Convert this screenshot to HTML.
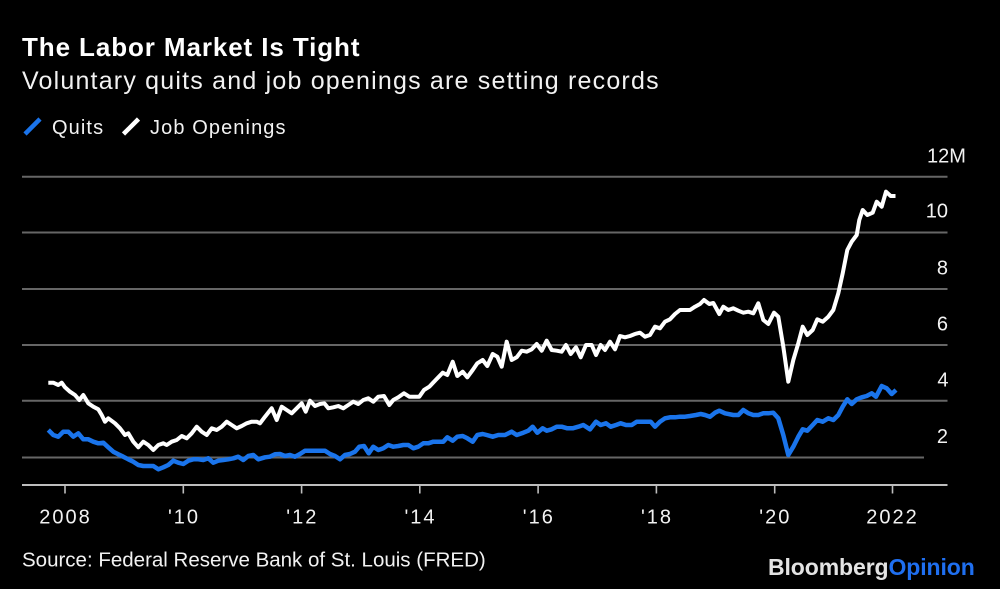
<!DOCTYPE html>
<html>
<head>
<meta charset="utf-8">
<style>
  html, body { margin:0; padding:0; background:#000; }
  body { width:1000px; height:589px; overflow:hidden; }
  svg { display:block; }
  text { font-family: "Liberation Sans", Arial, sans-serif; }
</style>
</head>
<body>
<svg width="1000" height="589" viewBox="0 0 1000 589" xmlns="http://www.w3.org/2000/svg">
  <rect x="0" y="0" width="1000" height="589" fill="#000"/>

  <!-- Title -->
  <text x="22" y="56" font-size="26" font-weight="bold" fill="#ffffff" letter-spacing="0.9">The Labor Market Is Tight</text>
  <text x="22" y="89" font-size="25" fill="#f2f2f2" letter-spacing="1.2">Voluntary quits and job openings are setting records</text>

  <!-- Legend -->
  <line x1="25" y1="134" x2="40" y2="119" stroke="#1a74eb" stroke-width="4.5"/>
  <text x="52" y="134" font-size="20" fill="#f2f2f2" letter-spacing="1.1">Quits</text>
  <line x1="123.5" y1="134" x2="138.5" y2="119" stroke="#ffffff" stroke-width="4.5"/>
  <text x="150" y="134" font-size="20" fill="#f2f2f2" letter-spacing="1.1">Job Openings</text>

  <!-- Gridlines -->
  <g stroke="#666666" stroke-width="2">
    <line x1="22" y1="176.7" x2="947.5" y2="176.7"/>
    <line x1="22" y1="232.5" x2="947.5" y2="232.5"/>
    <line x1="22" y1="289" x2="947.5" y2="289"/>
    <line x1="22" y1="345" x2="947.5" y2="345"/>
    <line x1="22" y1="400.7" x2="947.5" y2="400.7"/>
    <line x1="22" y1="457.5" x2="924" y2="457.5"/>
  </g>

  <!-- Y labels -->
  <g font-size="20" fill="#f2f2f2">
    <text x="927" y="162.7">12M</text>
    <text x="948" y="217.5" text-anchor="end">10</text>
    <text x="948" y="274.5" text-anchor="end">8</text>
    <text x="948" y="330.5" text-anchor="end">6</text>
    <text x="948.5" y="386.3" text-anchor="end">4</text>
    <text x="948" y="443" text-anchor="end">2</text>
  </g>

  <!-- X axis -->
  <line x1="22" y1="485" x2="947.5" y2="485" stroke="#bdbdbd" stroke-width="2"/>
  <g stroke="#bdbdbd" stroke-width="1.6">
    <line x1="65" y1="485" x2="65" y2="493.5"/>
    <line x1="183.3" y1="485" x2="183.3" y2="493.5"/>
    <line x1="301.6" y1="485" x2="301.6" y2="493.5"/>
    <line x1="419.8" y1="485" x2="419.8" y2="493.5"/>
    <line x1="538.1" y1="485" x2="538.1" y2="493.5"/>
    <line x1="656.4" y1="485" x2="656.4" y2="493.5"/>
    <line x1="774.7" y1="485" x2="774.7" y2="493.5"/>
    <line x1="892.5" y1="485" x2="892.5" y2="493.5"/>
  </g>
  <g font-size="20" fill="#f2f2f2" text-anchor="middle" letter-spacing="2">
    <text x="65.5" y="523.3">2008</text>
    <text x="184" y="523.3">'10</text>
    <text x="302.3" y="523.3">'12</text>
    <text x="420.5" y="523.3">'14</text>
    <text x="538.8" y="523.3">'16</text>
    <text x="657" y="523.3">'18</text>
    <text x="775.3" y="523.3">'20</text>
    <text x="892.5" y="523.3">2022</text>
  </g>

  <!-- Job openings (white) -->
  <polyline fill="none" stroke="#ffffff" stroke-width="4" stroke-linejoin="round" stroke-linecap="butt"
    points="48.3,382.7 53.3,382.7 58.3,385 61.7,382.7 65,387.3 70,391.7 75,395 79.3,400 83.3,395 88.3,403.3 93.3,406.7 98.3,409.3 101.7,415 105,421.7 108.3,418.3 115,423.3 120,428.3 125,435 128.3,433.3 133.3,441.7 138.3,447.3 143.3,441.7 148.3,445 153.3,450 158.3,445 163.3,443.3 166.7,445 171.7,441.7 176.7,440 181.7,436 186.7,438.3 191.7,433.3 196.7,426.7 201.7,431.7 206.7,435 211.7,428.3 216.7,430 221.7,426.7 226.7,421.7 231.7,425 236.7,428.3 241.7,426 246.7,423.3 251.7,421.7 256.7,421.7 260,423.3 265,416.7 271.7,408.3 276.7,420 281.7,406.7 286.7,410 291.7,413.3 296.7,408.3 301.7,403.3 305.7,411.7 310,400.7 315,406 320,404 324.3,403.3 328.3,408.3 333.3,407.3 338.3,406 343.3,408.3 348.3,405 353.3,401.7 358.3,404 363.3,400 368.3,398.3 373.3,401.7 378.3,396.7 384,396 389.3,405 393.3,400 398.3,397.3 404,393.3 409.3,396.7 415,396.7 419.3,396.7 424,390 429.3,386.7 434,381.7 438.3,377.3 442.7,372.7 447.3,375 452.7,361.7 457.3,376 462.7,371.7 467.3,377.3 472.7,370 477.3,363.3 482.7,360 487.3,366 492.7,354 497.3,356.7 501.7,366.7 506.7,341.7 511.7,360 516.7,357.3 521.7,350.7 526.7,351.7 531.7,349.3 536.7,344 541.7,350.7 546.7,340.7 551.7,350 556.7,350.7 561.7,351.7 566,345 570.7,354 576,347.3 580.7,357.3 586,345 591.7,345 596,355 600.7,345 605,350 610,341.7 615,349.3 620,336 625,337.3 630,336 635,334 640,332.7 645,336.7 650,335 655,326.7 660,328.3 665,321.7 670,319.3 675,314 680,310 685,310 690,310 695,306.7 700,304 704,300 709.3,304 713.3,303 719.3,314 723.3,306.7 728.3,310 733.3,308.3 738.3,310.7 743.3,312.7 748.3,311.7 753.3,313.3 758.3,303.3 763.3,320 768.3,324 774,312.7 778.3,316.7 783.3,346.7 788.3,381.7 793.3,360 798.3,343.3 802.7,326.7 807.3,335 812.7,330 817.3,319.3 822.7,321.7 828.3,316.7 833.3,310 838.3,293.3 842.7,273.3 847.3,250 851.7,241.7 856.7,235 859.3,220 862.7,210 867.3,215 872.7,212.7 876.7,201.7 881.7,206.7 886,191.7 890.7,196 895.5,196"/>

  <!-- Quits (blue) -->
  <polyline fill="none" stroke="#1a74eb" stroke-width="4.5" stroke-linejoin="round" stroke-linecap="butt"
    points="48.3,430 53.3,435 58.3,436.7 63.3,431.7 68.3,431.7 73.3,436.7 78.3,433.3 83.3,439.3 88.3,439.3 93.3,441.7 98.3,443.3 103.3,442.7 108.3,447.3 113.3,451.7 118.3,454.3 123.3,456.7 128.3,459.3 133.3,461.7 138.3,465 143.3,466 148.3,466 153.3,466 158.3,469.3 163.3,467.3 168.3,465 173.3,460.7 178.3,462.7 183.3,464 188.3,460.7 193.3,459.3 198.3,459.3 203.3,460 208.3,458.3 213.3,462.7 218.3,460.7 223.3,460 228.3,459.3 233.3,458.3 238.3,456.7 243.3,460 248.3,456 253.3,455 258.3,459.3 265,457.3 270,456.7 275,454.3 280,454 285,456 290,455 295,456.7 300,454 305,450.7 310,450.7 315,450.7 320,450.7 325,450.7 330,454 335,456 340,459.3 345,455 350,454 355,451.7 359.3,446.7 364,446 368.7,453.3 373.3,446.7 378.3,450 383.3,448.3 388.3,445 393.3,446.7 398.3,446 403.3,445 408.3,445 413.3,448.3 418.3,446.7 423.3,443.3 428.3,443.3 433.3,441.7 438.3,441.7 443.3,441.7 447.3,437.3 452.7,440.7 457.3,436.7 462.7,436 467.3,438.3 472.7,441.7 477.3,435 482.7,434 486.7,435 492.7,436.7 498.3,435 505,435 511.7,431.7 516.7,435 523.3,432.7 528.3,430.7 532.7,426.7 537.3,432.7 542.7,428.3 546.7,430.7 551.7,429.3 556.7,426.7 561.7,426.7 567.3,428.3 572.7,428.3 578.3,426.7 583.3,425 590,429.3 596,421.7 600.7,425 606,423.3 610.7,426.7 616,425 620.7,423.3 626,425 631.7,425 636.7,421.7 641.7,421.7 646.7,421.7 650.7,421.7 655,426.7 660,421.7 665,418.3 670,417.3 675,417.3 680,416.7 685,416.7 690,416 696,415 700.7,414 705,415 710,416.7 715,412.7 719.3,410.7 725,413.3 733.3,415 738.3,415 743.3,410 748.3,413.3 753.3,415 758.3,415 763.3,413.3 768.3,413.3 773.3,412.7 778.3,418.3 783.3,435 788.3,455 793.3,446.7 798.3,436.7 802.7,429.3 807.3,430.7 812.7,425 817.3,420 822.7,421.7 828.3,418.3 833.3,420 838.3,415 842.7,406.7 847.3,399.3 851.7,404 856.7,399.3 861.7,397.3 866.7,396 871.7,393.3 876,396.7 881.7,386 886.7,388.3 891.7,394 896,390"/>

  <!-- Footer -->
  <text x="22" y="566.7" font-size="20.5" fill="#f2f2f2">Source: Federal Reserve Bank of St. Louis (FRED)</text>
  <text x="768" y="575" font-size="23" font-weight="bold" letter-spacing="-0.1"><tspan fill="#e3e3e3">Bloomberg</tspan><tspan fill="#1f6ff0">Opinion</tspan></text>
</svg>
</body>
</html>
